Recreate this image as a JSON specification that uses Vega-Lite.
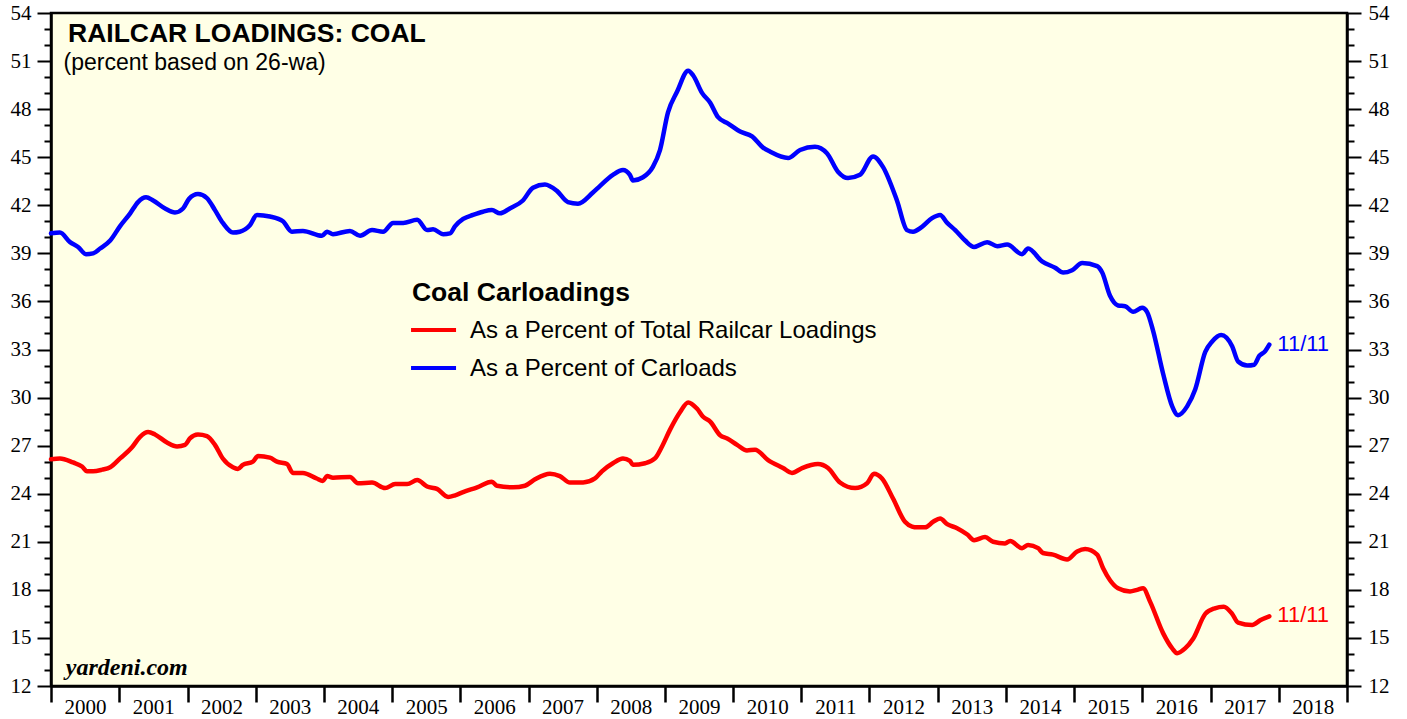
{
  "$schema": "https://vega.github.io/schema/vega-lite/v6.json",
  "width": 1296,
  "height": 673,
  "autosize": {"type": "none"},
  "padding": {"left": 51, "top": 13, "right": 60, "bottom": 33},
  "background": "white",
  "config": {"view": {"fill": "#FFFFE6", "stroke": "black", "strokeWidth": 2.5}, "axis": {"grid": false}},
  "datasets": {
    "series": [
      {"date":"2000-01-01","series":"Carloads","value":40.25},
      {"date":"2000-02-18","series":"Carloads","value":40.3},
      {"date":"2000-04-12","series":"Carloads","value":39.7},
      {"date":"2000-05-25","series":"Carloads","value":39.4},
      {"date":"2000-07-06","series":"Carloads","value":38.95},
      {"date":"2000-08-13","series":"Carloads","value":39.0},
      {"date":"2000-09-20","series":"Carloads","value":39.3},
      {"date":"2000-11-13","series":"Carloads","value":39.8},
      {"date":"2001-01-05","series":"Carloads","value":40.7},
      {"date":"2001-02-28","series":"Carloads","value":41.5},
      {"date":"2001-04-11","series":"Carloads","value":42.2},
      {"date":"2001-05-24","series":"Carloads","value":42.5},
      {"date":"2001-07-01","series":"Carloads","value":42.3},
      {"date":"2001-09-03","series":"Carloads","value":41.8},
      {"date":"2001-10-26","series":"Carloads","value":41.55},
      {"date":"2001-12-08","series":"Carloads","value":41.8},
      {"date":"2002-01-09","series":"Carloads","value":42.4},
      {"date":"2002-02-26","series":"Carloads","value":42.7},
      {"date":"2002-04-15","series":"Carloads","value":42.45},
      {"date":"2002-05-28","series":"Carloads","value":41.7},
      {"date":"2002-07-09","series":"Carloads","value":40.9},
      {"date":"2002-09-01","series":"Carloads","value":40.3},
      {"date":"2002-10-08","series":"Carloads","value":40.35},
      {"date":"2002-12-01","series":"Carloads","value":40.75},
      {"date":"2003-01-08","series":"Carloads","value":41.4},
      {"date":"2003-03-18","series":"Carloads","value":41.3},
      {"date":"2003-05-27","series":"Carloads","value":41.0},
      {"date":"2003-07-14","series":"Carloads","value":40.35},
      {"date":"2003-09-11","series":"Carloads","value":40.4},
      {"date":"2003-12-22","series":"Carloads","value":40.1},
      {"date":"2004-01-18","series":"Carloads","value":40.35},
      {"date":"2004-02-19","series":"Carloads","value":40.2},
      {"date":"2004-05-20","series":"Carloads","value":40.4},
      {"date":"2004-07-13","series":"Carloads","value":40.1},
      {"date":"2004-09-15","series":"Carloads","value":40.45},
      {"date":"2004-11-13","series":"Carloads","value":40.35},
      {"date":"2005-01-06","series":"Carloads","value":40.9},
      {"date":"2005-03-01","series":"Carloads","value":40.9},
      {"date":"2005-05-15","series":"Carloads","value":41.1},
      {"date":"2005-07-07","series":"Carloads","value":40.45},
      {"date":"2005-08-08","series":"Carloads","value":40.5},
      {"date":"2005-10-01","series":"Carloads","value":40.2},
      {"date":"2005-11-07","series":"Carloads","value":40.25},
      {"date":"2005-12-04","series":"Carloads","value":40.7},
      {"date":"2006-01-16","series":"Carloads","value":41.15},
      {"date":"2006-03-10","series":"Carloads","value":41.4},
      {"date":"2006-05-02","series":"Carloads","value":41.6},
      {"date":"2006-06-19","series":"Carloads","value":41.7},
      {"date":"2006-08-01","series":"Carloads","value":41.5},
      {"date":"2006-09-23","series":"Carloads","value":41.8},
      {"date":"2006-12-02","series":"Carloads","value":42.3},
      {"date":"2007-01-25","series":"Carloads","value":43.1},
      {"date":"2007-03-30","series":"Carloads","value":43.3},
      {"date":"2007-06-02","series":"Carloads","value":42.9},
      {"date":"2007-07-31","series":"Carloads","value":42.2},
      {"date":"2007-09-23","series":"Carloads","value":42.1},
      {"date":"2007-12-12","series":"Carloads","value":42.8},
      {"date":"2008-01-18","series":"Carloads","value":43.2},
      {"date":"2008-03-28","series":"Carloads","value":43.9},
      {"date":"2008-05-21","series":"Carloads","value":44.2},
      {"date":"2008-06-27","series":"Carloads","value":43.9},
      {"date":"2008-07-13","series":"Carloads","value":43.55},
      {"date":"2008-09-05","series":"Carloads","value":43.75},
      {"date":"2008-10-28","series":"Carloads","value":44.4},
      {"date":"2008-12-05","series":"Carloads","value":45.45},
      {"date":"2009-01-17","series":"Carloads","value":47.8},
      {"date":"2009-03-07","series":"Carloads","value":49.1},
      {"date":"2009-05-05","series":"Carloads","value":50.4},
      {"date":"2009-06-01","series":"Carloads","value":50.1},
      {"date":"2009-07-19","series":"Carloads","value":49.0},
      {"date":"2009-08-31","series":"Carloads","value":48.4},
      {"date":"2009-10-12","series":"Carloads","value":47.5},
      {"date":"2009-12-05","series":"Carloads","value":47.1},
      {"date":"2010-02-07","series":"Carloads","value":46.6},
      {"date":"2010-04-12","series":"Carloads","value":46.3},
      {"date":"2010-06-10","series":"Carloads","value":45.6},
      {"date":"2010-07-17","series":"Carloads","value":45.35},
      {"date":"2010-10-22","series":"Carloads","value":44.95},
      {"date":"2010-12-25","series":"Carloads","value":45.45},
      {"date":"2011-03-15","series":"Carloads","value":45.65},
      {"date":"2011-05-18","series":"Carloads","value":45.25},
      {"date":"2011-07-16","series":"Carloads","value":44.1},
      {"date":"2011-09-08","series":"Carloads","value":43.7},
      {"date":"2011-11-11","series":"Carloads","value":43.9},
      {"date":"2012-01-20","series":"Carloads","value":45.05},
      {"date":"2012-03-13","series":"Carloads","value":44.4},
      {"date":"2012-05-27","series":"Carloads","value":42.3},
      {"date":"2012-07-20","series":"Carloads","value":40.45},
      {"date":"2012-08-21","series":"Carloads","value":40.35},
      {"date":"2012-10-08","series":"Carloads","value":40.65},
      {"date":"2012-12-01","series":"Carloads","value":41.2},
      {"date":"2013-01-13","series":"Carloads","value":41.4},
      {"date":"2013-02-20","series":"Carloads","value":40.9},
      {"date":"2013-04-04","series":"Carloads","value":40.45},
      {"date":"2013-05-27","series":"Carloads","value":39.8},
      {"date":"2013-07-14","series":"Carloads","value":39.4},
      {"date":"2013-09-22","series":"Carloads","value":39.7},
      {"date":"2013-11-15","series":"Carloads","value":39.45},
      {"date":"2014-01-07","series":"Carloads","value":39.55},
      {"date":"2014-03-28","series":"Carloads","value":38.95},
      {"date":"2014-04-29","series":"Carloads","value":39.3},
      {"date":"2014-07-13","series":"Carloads","value":38.5},
      {"date":"2014-09-21","series":"Carloads","value":38.1},
      {"date":"2014-11-03","series":"Carloads","value":37.8},
      {"date":"2014-12-21","series":"Carloads","value":37.95},
      {"date":"2015-02-13","series":"Carloads","value":38.4},
      {"date":"2015-05-04","series":"Carloads","value":38.2},
      {"date":"2015-05-31","series":"Carloads","value":37.8},
      {"date":"2015-07-12","series":"Carloads","value":36.35},
      {"date":"2015-08-24","series":"Carloads","value":35.75},
      {"date":"2015-10-01","series":"Carloads","value":35.7},
      {"date":"2015-11-13","series":"Carloads","value":35.35},
      {"date":"2015-12-31","series":"Carloads","value":35.6},
      {"date":"2016-01-26","series":"Carloads","value":35.35},
      {"date":"2016-02-27","series":"Carloads","value":34.2},
      {"date":"2016-04-21","series":"Carloads","value":31.5},
      {"date":"2016-06-09","series":"Carloads","value":29.45},
      {"date":"2016-07-10","series":"Carloads","value":28.9},
      {"date":"2016-08-28","series":"Carloads","value":29.45},
      {"date":"2016-10-10","series":"Carloads","value":30.5},
      {"date":"2016-12-03","series":"Carloads","value":32.85},
      {"date":"2017-01-09","series":"Carloads","value":33.5},
      {"date":"2017-02-26","series":"Carloads","value":33.9},
      {"date":"2017-04-26","series":"Carloads","value":33.2},
      {"date":"2017-05-28","series":"Carloads","value":32.25},
      {"date":"2017-07-16","series":"Carloads","value":32.0},
      {"date":"2017-08-22","series":"Carloads","value":32.05},
      {"date":"2017-09-18","series":"Carloads","value":32.6},
      {"date":"2017-10-20","series":"Carloads","value":32.9},
      {"date":"2017-11-11","series":"Carloads","value":33.3},
      {"date":"2000-01-01","series":"Total","value":26.15},
      {"date":"2000-02-18","series":"Total","value":26.2},
      {"date":"2000-04-28","series":"Total","value":25.95},
      {"date":"2000-06-15","series":"Total","value":25.7},
      {"date":"2000-07-12","series":"Total","value":25.4},
      {"date":"2000-08-13","series":"Total","value":25.4},
      {"date":"2000-10-01","series":"Total","value":25.5},
      {"date":"2000-11-13","series":"Total","value":25.65},
      {"date":"2001-01-05","series":"Total","value":26.2},
      {"date":"2001-03-10","series":"Total","value":26.9},
      {"date":"2001-04-22","series":"Total","value":27.55},
      {"date":"2001-06-04","series":"Total","value":27.85},
      {"date":"2001-07-11","series":"Total","value":27.7},
      {"date":"2001-09-13","series":"Total","value":27.2},
      {"date":"2001-11-06","series":"Total","value":26.95},
      {"date":"2001-12-19","series":"Total","value":27.05},
      {"date":"2002-01-14","series":"Total","value":27.45},
      {"date":"2002-02-26","series":"Total","value":27.7},
      {"date":"2002-04-15","series":"Total","value":27.6},
      {"date":"2002-05-28","series":"Total","value":27.05},
      {"date":"2002-07-09","series":"Total","value":26.2},
      {"date":"2002-09-01","series":"Total","value":25.65},
      {"date":"2002-09-28","series":"Total","value":25.55},
      {"date":"2002-10-24","series":"Total","value":25.8},
      {"date":"2002-12-17","series":"Total","value":26.0},
      {"date":"2003-01-13","series":"Total","value":26.35},
      {"date":"2003-03-18","series":"Total","value":26.25},
      {"date":"2003-04-25","series":"Total","value":26.0},
      {"date":"2003-06-18","series":"Total","value":25.85},
      {"date":"2003-07-19","series":"Total","value":25.3},
      {"date":"2003-09-11","series":"Total","value":25.3},
      {"date":"2003-11-24","series":"Total","value":24.95},
      {"date":"2003-12-27","series":"Total","value":24.8},
      {"date":"2004-01-18","series":"Total","value":25.1},
      {"date":"2004-02-19","series":"Total","value":25.0},
      {"date":"2004-05-20","series":"Total","value":25.05},
      {"date":"2004-07-02","series":"Total","value":24.65},
      {"date":"2004-09-15","series":"Total","value":24.7},
      {"date":"2004-11-24","series":"Total","value":24.35},
      {"date":"2005-01-17","series":"Total","value":24.6},
      {"date":"2005-03-22","series":"Total","value":24.6},
      {"date":"2005-05-15","series":"Total","value":24.85},
      {"date":"2005-07-07","series":"Total","value":24.45},
      {"date":"2005-08-29","series":"Total","value":24.3},
      {"date":"2005-10-27","series":"Total","value":23.8},
      {"date":"2005-12-04","series":"Total","value":23.9},
      {"date":"2006-01-16","series":"Total","value":24.1},
      {"date":"2006-04-01","series":"Total","value":24.4},
      {"date":"2006-06-19","series":"Total","value":24.75},
      {"date":"2006-07-16","series":"Total","value":24.5},
      {"date":"2006-10-10","series":"Total","value":24.4},
      {"date":"2006-12-13","series":"Total","value":24.5},
      {"date":"2007-02-05","series":"Total","value":24.9},
      {"date":"2007-04-26","series":"Total","value":25.25},
      {"date":"2007-06-18","series":"Total","value":25.1},
      {"date":"2007-08-11","series":"Total","value":24.7},
      {"date":"2007-10-20","series":"Total","value":24.7},
      {"date":"2007-12-23","series":"Total","value":24.95},
      {"date":"2008-01-29","series":"Total","value":25.4},
      {"date":"2008-03-28","series":"Total","value":25.9},
      {"date":"2008-05-21","series":"Total","value":26.2},
      {"date":"2008-06-27","series":"Total","value":26.05},
      {"date":"2008-07-13","series":"Total","value":25.8},
      {"date":"2008-09-16","series":"Total","value":25.9},
      {"date":"2008-11-08","series":"Total","value":26.2},
      {"date":"2008-12-16","series":"Total","value":26.95},
      {"date":"2009-01-28","series":"Total","value":28.0},
      {"date":"2009-03-23","series":"Total","value":29.1},
      {"date":"2009-05-05","series":"Total","value":29.7},
      {"date":"2009-06-22","series":"Total","value":29.3},
      {"date":"2009-07-24","series":"Total","value":28.8},
      {"date":"2009-08-31","series":"Total","value":28.5},
      {"date":"2009-10-23","series":"Total","value":27.65},
      {"date":"2009-11-30","series":"Total","value":27.45},
      {"date":"2010-01-22","series":"Total","value":27.05},
      {"date":"2010-03-16","series":"Total","value":26.7},
      {"date":"2010-04-28","series":"Total","value":26.75},
      {"date":"2010-07-07","series":"Total","value":26.1},
      {"date":"2010-09-25","series":"Total","value":25.6},
      {"date":"2010-11-12","series":"Total","value":25.3},
      {"date":"2011-01-05","series":"Total","value":25.6},
      {"date":"2011-03-31","series":"Total","value":25.85},
      {"date":"2011-05-24","series":"Total","value":25.6},
      {"date":"2011-07-27","series":"Total","value":24.7},
      {"date":"2011-10-16","series":"Total","value":24.35},
      {"date":"2011-12-19","series":"Total","value":24.65},
      {"date":"2012-01-25","series":"Total","value":25.25},
      {"date":"2012-03-08","series":"Total","value":24.95},
      {"date":"2012-05-06","series":"Total","value":23.7},
      {"date":"2012-07-09","series":"Total","value":22.25},
      {"date":"2012-08-16","series":"Total","value":21.95},
      {"date":"2012-09-12","series":"Total","value":21.9},
      {"date":"2012-10-25","series":"Total","value":21.9},
      {"date":"2012-12-07","series":"Total","value":22.25},
      {"date":"2013-01-13","series":"Total","value":22.45},
      {"date":"2013-02-20","series":"Total","value":22.1},
      {"date":"2013-04-14","series":"Total","value":21.85},
      {"date":"2013-06-08","series":"Total","value":21.45},
      {"date":"2013-07-14","series":"Total","value":21.1},
      {"date":"2013-09-11","series":"Total","value":21.3},
      {"date":"2013-10-24","series":"Total","value":21.0},
      {"date":"2013-12-27","series":"Total","value":20.9},
      {"date":"2014-01-23","series":"Total","value":21.05},
      {"date":"2014-03-28","series":"Total","value":20.6},
      {"date":"2014-04-29","series":"Total","value":20.8},
      {"date":"2014-06-22","series":"Total","value":20.6},
      {"date":"2014-07-18","series":"Total","value":20.3},
      {"date":"2014-09-10","series":"Total","value":20.2},
      {"date":"2014-11-24","series":"Total","value":19.9},
      {"date":"2015-01-17","series":"Total","value":20.4},
      {"date":"2015-03-01","series":"Total","value":20.55},
      {"date":"2015-05-04","series":"Total","value":20.2},
      {"date":"2015-06-05","series":"Total","value":19.35},
      {"date":"2015-07-12","series":"Total","value":18.6},
      {"date":"2015-08-24","series":"Total","value":18.1},
      {"date":"2015-10-27","series":"Total","value":17.9},
      {"date":"2015-12-04","series":"Total","value":18.0},
      {"date":"2016-01-05","series":"Total","value":18.1},
      {"date":"2016-02-12","series":"Total","value":17.25},
      {"date":"2016-04-21","series":"Total","value":15.3},
      {"date":"2016-06-09","series":"Total","value":14.35},
      {"date":"2016-07-05","series":"Total","value":14.05},
      {"date":"2016-08-17","series":"Total","value":14.35},
      {"date":"2016-09-29","series":"Total","value":14.95},
      {"date":"2016-12-03","series":"Total","value":16.5},
      {"date":"2017-01-23","series":"Total","value":16.85},
      {"date":"2017-03-12","series":"Total","value":16.95},
      {"date":"2017-04-26","series":"Total","value":16.5},
      {"date":"2017-05-28","series":"Total","value":15.95},
      {"date":"2017-08-11","series":"Total","value":15.8},
      {"date":"2017-08-22","series":"Total","value":15.85},
      {"date":"2017-09-23","series":"Total","value":16.1},
      {"date":"2017-11-11","series":"Total","value":16.35}
    ]
  },
  "resolve": {"axis": {"x": "independent", "y": "independent"}},
  "layer": [
    {
      "data": {"name": "series"},
      "mark": {"type": "line", "strokeWidth": 4.5, "strokeJoin": "round", "strokeCap": "round", "interpolate": "monotone"},
      "encoding": {
        "x": {
          "field": "date", "type": "temporal",
          "scale": {"type": "utc", "domain": [{"year": 2000, "month": 1, "date": 1, "utc": true}, {"year": 2019, "month": 1, "date": 1, "utc": true}]},
          "axis": {
            "orient": "bottom", "title": null, "grid": false,
            "tickCount": {"interval": "year", "step": 1},
            "labelExpr": "utcyear(datum.value) >= 2019 ? '' : utcFormat(datum.value, '%Y')",
            "labelOffset": 34, "labelPadding": -6,
            "labelFont": "Liberation Serif", "labelFontSize": 21, "labelColor": "black",
            "labelOverlap": false, "labelFlush": false, "labelBound": false,
            "tickSize": 16, "tickWidth": 2.5, "tickColor": "black",
            "domainColor": "black", "domainWidth": 2.5
          }
        },
        "y": {
          "field": "value", "type": "quantitative",
          "scale": {"domain": [12, 54], "nice": false, "zero": false},
          "axis": {
            "orient": "left", "title": null, "grid": false,
            "values": [12,13,14,15,16,17,18,19,20,21,22,23,24,25,26,27,28,29,30,31,32,33,34,35,36,37,38,39,40,41,42,43,44,45,46,47,48,49,50,51,52,53,54],
            "labelExpr": "datum.value % 3 == 0 ? format(datum.value, 'd') : ''",
            "tickSize": {"condition": {"test": "datum.value % 3 == 0", "value": 14}, "value": 7},
            "tickWidth": 2, "tickColor": "black",
            "labelFont": "Liberation Serif", "labelFontSize": 21, "labelColor": "black",
            "labelPadding": 6, "labelOverlap": false, "labelFlush": false, "labelBound": false,
            "domainColor": "black", "domainWidth": 2.5
          }
        },
        "color": {
          "field": "series", "type": "nominal",
          "scale": {"domain": ["Total", "Carloads"], "range": ["#FF0000", "#0000FF"]},
          "legend": null
        }
      }
    },
    {
      "data": {"name": "series"},
      "transform": [{"filter": "toDate(datum.date) > utc(2017, 10, 1)"}],
      "mark": {"type": "text", "align": "left", "baseline": "middle", "dx": 8, "dy": -1, "font": "Liberation Sans", "fontSize": 22},
      "encoding": {
        "x": {
          "field": "date", "type": "temporal",
          "scale": {"type": "utc", "domain": [{"year": 2000, "month": 1, "date": 1, "utc": true}, {"year": 2019, "month": 1, "date": 1, "utc": true}]},
          "axis": null
        },
        "y": {
          "field": "value", "type": "quantitative",
          "scale": {"domain": [12, 54], "nice": false, "zero": false},
          "axis": {
            "orient": "right", "title": null, "grid": false,
            "values": [12,13,14,15,16,17,18,19,20,21,22,23,24,25,26,27,28,29,30,31,32,33,34,35,36,37,38,39,40,41,42,43,44,45,46,47,48,49,50,51,52,53,54],
            "labelExpr": "datum.value % 3 == 0 ? format(datum.value, 'd') : ''",
            "tickSize": {"condition": {"test": "datum.value % 3 == 0", "value": 14}, "value": 7},
            "tickWidth": 2, "tickColor": "black",
            "labelFont": "Liberation Serif", "labelFontSize": 21, "labelColor": "black",
            "labelPadding": 7, "labelOverlap": false, "labelFlush": false, "labelBound": false,
            "domainColor": "black", "domainWidth": 2.5
          }
        },
        "text": {"value": "11/11"},
        "color": {
          "field": "series", "type": "nominal",
          "scale": {"domain": ["Total", "Carloads"], "range": ["#FF0000", "#0000FF"]},
          "legend": null
        }
      }
    },
    {
      "data": {"values": [{}]},
      "mark": {"type": "text", "align": "left", "baseline": "alphabetic", "font": "Liberation Sans", "fontWeight": "bold", "fontSize": 26.5, "color": "black", "text": "RAILCAR LOADINGS: COAL"},
      "encoding": {
        "x": {"datum": {"year": 2000, "month": 4, "date": 1, "utc": true}, "type": "temporal", "scale": {"type": "utc", "domain": [{"year": 2000, "month": 1, "date": 1, "utc": true}, {"year": 2019, "month": 1, "date": 1, "utc": true}]}, "axis": null},
        "y": {"datum": 52.2, "type": "quantitative", "scale": {"domain": [12, 54], "nice": false, "zero": false}, "axis": null}
      }
    },
    {
      "data": {"values": [{}]},
      "mark": {"type": "text", "align": "left", "baseline": "alphabetic", "font": "Liberation Sans", "fontSize": 23, "color": "black", "text": "(percent based on 26-wa)"},
      "encoding": {
        "x": {"datum": {"year": 2000, "month": 3, "date": 8, "utc": true}, "type": "temporal", "scale": {"type": "utc", "domain": [{"year": 2000, "month": 1, "date": 1, "utc": true}, {"year": 2019, "month": 1, "date": 1, "utc": true}]}, "axis": null},
        "y": {"datum": 50.45, "type": "quantitative", "scale": {"domain": [12, 54], "nice": false, "zero": false}, "axis": null}
      }
    },
    {
      "data": {"values": [{}]},
      "mark": {"type": "text", "align": "left", "baseline": "alphabetic", "font": "Liberation Serif", "fontStyle": "italic", "fontWeight": "bold", "fontSize": 24, "color": "black", "text": "yardeni.com"},
      "encoding": {
        "x": {"datum": {"year": 2000, "month": 3, "date": 20, "utc": true}, "type": "temporal", "scale": {"type": "utc", "domain": [{"year": 2000, "month": 1, "date": 1, "utc": true}, {"year": 2019, "month": 1, "date": 1, "utc": true}]}, "axis": null},
        "y": {"datum": 12.69, "type": "quantitative", "scale": {"domain": [12, 54], "nice": false, "zero": false}, "axis": null}
      }
    },
    {
      "data": {"values": [{}]},
      "mark": {"type": "text", "align": "left", "baseline": "alphabetic", "font": "Liberation Sans", "fontWeight": "bold", "fontSize": 26.5, "color": "black", "text": "Coal Carloadings"},
      "encoding": {
        "x": {"datum": {"year": 2005, "month": 4, "date": 17, "utc": true}, "type": "temporal", "scale": {"type": "utc", "domain": [{"year": 2000, "month": 1, "date": 1, "utc": true}, {"year": 2019, "month": 1, "date": 1, "utc": true}]}, "axis": null},
        "y": {"datum": 36.03, "type": "quantitative", "scale": {"domain": [12, 54], "nice": false, "zero": false}, "axis": null}
      }
    },
    {
      "data": {"values": [{}]},
      "mark": {"type": "rule", "color": "#FF0000", "strokeWidth": 4},
      "encoding": {
        "x": {"datum": {"year": 2005, "month": 4, "date": 12, "utc": true}, "type": "temporal", "scale": {"type": "utc", "domain": [{"year": 2000, "month": 1, "date": 1, "utc": true}, {"year": 2019, "month": 1, "date": 1, "utc": true}]}, "axis": null},
        "x2": {"datum": {"year": 2005, "month": 12, "date": 9, "utc": true}},
        "y": {"datum": 34.22, "type": "quantitative", "scale": {"domain": [12, 54], "nice": false, "zero": false}, "axis": null}
      }
    },
    {
      "data": {"values": [{}]},
      "mark": {"type": "rule", "color": "#0000FF", "strokeWidth": 4},
      "encoding": {
        "x": {"datum": {"year": 2005, "month": 4, "date": 12, "utc": true}, "type": "temporal", "scale": {"type": "utc", "domain": [{"year": 2000, "month": 1, "date": 1, "utc": true}, {"year": 2019, "month": 1, "date": 1, "utc": true}]}, "axis": null},
        "x2": {"datum": {"year": 2005, "month": 12, "date": 9, "utc": true}},
        "y": {"datum": 31.85, "type": "quantitative", "scale": {"domain": [12, 54], "nice": false, "zero": false}, "axis": null}
      }
    },
    {
      "data": {"values": [{}]},
      "mark": {"type": "text", "align": "left", "baseline": "alphabetic", "font": "Liberation Sans", "fontSize": 24, "color": "black", "text": "As a Percent of Total Railcar Loadings"},
      "encoding": {
        "x": {"datum": {"year": 2006, "month": 2, "date": 22, "utc": true}, "type": "temporal", "scale": {"type": "utc", "domain": [{"year": 2000, "month": 1, "date": 1, "utc": true}, {"year": 2019, "month": 1, "date": 1, "utc": true}]}, "axis": null},
        "y": {"datum": 33.72, "type": "quantitative", "scale": {"domain": [12, 54], "nice": false, "zero": false}, "axis": null}
      }
    },
    {
      "data": {"values": [{}]},
      "mark": {"type": "text", "align": "left", "baseline": "alphabetic", "font": "Liberation Sans", "fontSize": 24, "color": "black", "text": "As a Percent of Carloads"},
      "encoding": {
        "x": {"datum": {"year": 2006, "month": 2, "date": 22, "utc": true}, "type": "temporal", "scale": {"type": "utc", "domain": [{"year": 2000, "month": 1, "date": 1, "utc": true}, {"year": 2019, "month": 1, "date": 1, "utc": true}]}, "axis": null},
        "y": {"datum": 31.37, "type": "quantitative", "scale": {"domain": [12, 54], "nice": false, "zero": false}, "axis": null}
      }
    }
  ]
}
